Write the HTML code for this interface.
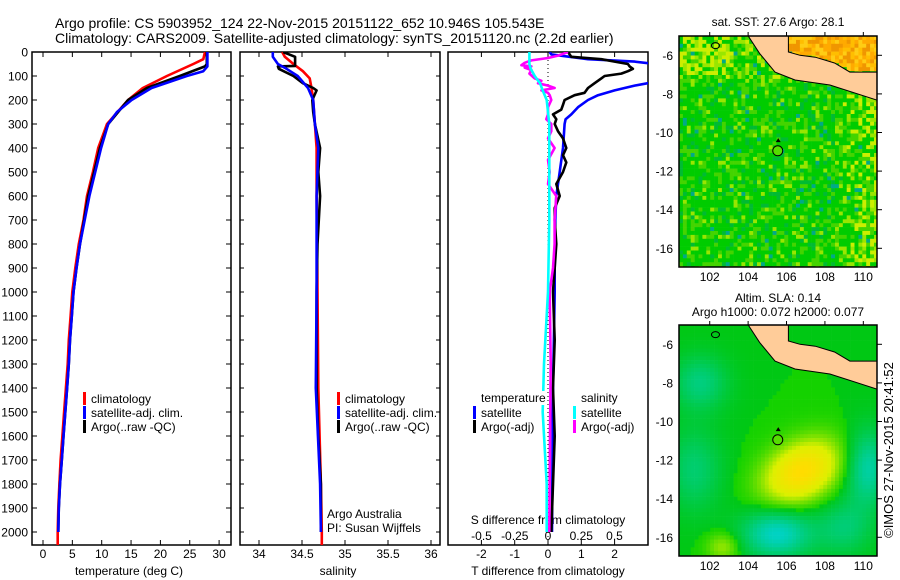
<!DOCTYPE html>
<html><head><meta charset="utf-8">
<style>
html,body{margin:0;padding:0;background:#fff;}
svg{display:block;font-family:"Liberation Sans",sans-serif;}
</style></head>
<body>
<svg id="fig" width="900" height="580" viewBox="0 0 900 580" xmlns="http://www.w3.org/2000/svg">
<text x="55" y="28" font-size="14">Argo profile: CS 5903952_124 22-Nov-2015 20151122_652 10.946S 105.543E</text>
<text x="55" y="43" font-size="14">Climatology: CARS2009. Satellite-adjusted climatology: synTS_20151120.nc (2.2d earlier)</text>
<g id="g1"></g>
<g id="g2"></g>
<g id="g3"></g>
<g id="m1"></g>
<g id="m2"></g>
<text x="778" y="26" font-size="12" text-anchor="middle">sat. SST: 27.6 Argo: 28.1</text>
<text x="778" y="302" font-size="12" text-anchor="middle">Altim. SLA: 0.14</text>
<text x="778" y="316" font-size="12" text-anchor="middle">Argo h1000: 0.072 h2000: 0.077</text>
<text transform="translate(893,450) rotate(-90)" font-size="13" text-anchor="middle">©IMOS 27-Nov-2015 20:41:52</text>
</svg>
<script>
// ---- data ----
const tClimDepth=[0,30,50,100,150,200,300,400,500,600,700,800,900,1000,1100,1200,1300,1400,1500,1600,1700,1800,1900,2000,2060];
const tClim=[27.6,27.3,25.6,21.1,17.0,14.5,10.9,9.4,8.5,7.5,6.9,6.1,5.5,5.0,4.7,4.4,4.2,3.9,3.6,3.3,3.0,2.8,2.6,2.5,2.5];
const tSatDepth=[0,60,80,100,150,200,250,300,400,600,700,800,900,1000,1100,1200,1300,1400,1500,1600,1700,1800,1900,2000];
const tSat=[28.0,28.0,27.3,24.5,18.5,15.1,12.6,11.1,9.9,7.9,7.1,6.3,5.7,5.2,4.9,4.6,4.4,4.1,3.8,3.5,3.2,2.9,2.7,2.6];
const tArgoDepth=[0,50,60,100,150,200,250,300,400,500,600,700,800,900,1000,1100,1200,1300,1400,1500,1600,1700,1800,1900,2000];
const tArgo=[27.9,27.9,27.6,23.3,17.7,14.5,12.8,11.1,9.7,8.7,7.7,7.0,6.3,5.7,5.2,4.9,4.6,4.4,4.1,3.8,3.5,3.2,2.9,2.7,2.6];
const sClimDepth=[0,20,50,80,110,150,200,300,400,600,1000,1400,1800,2000,2060];
const sClim=[34.27,34.30,34.40,34.51,34.59,34.61,34.63,34.65,34.67,34.67,34.68,34.69,34.72,34.73,34.73];
const sSatDepth=[0,20,50,70,100,150,200,300,400,600,1000,1400,1800,2000];
const sSat=[34.16,34.16,34.22,34.32,34.45,34.57,34.63,34.65,34.69,34.67,34.67,34.66,34.71,34.72];
const sArgoDepth=[0,20,58,60,70,100,130,150,160,200,250,300,400,500,600,800,1000,1200,1400,1600,1800,2000];
const sArgo=[34.28,34.42,34.42,34.22,34.23,34.40,34.51,34.63,34.67,34.62,34.63,34.65,34.71,34.69,34.71,34.68,34.67,34.67,34.67,34.69,34.72,34.72];
const dTSatDepth=[0,10,30,40,50,70,120,130,140,160,180,200,230,260,280,300,400,500,600,700,900,1000,1400,2000];
const dTSat=[0.05,0.1,1.2,2.6,3.2,3.6,3.6,3.0,2.6,2.0,1.5,1.2,0.9,0.7,0.53,0.5,0.45,0.35,0.25,0.22,0.2,0.2,0.15,0.12];
const dTArgoDepth=[0,20,30,40,50,60,70,80,90,100,110,130,150,170,180,200,220,240,260,280,300,330,360,400,430,460,500,550,600,650,700,800,900,1000,1200,1400,1600,1800,2000];
const dTArgo=[0.6,0.7,1.6,2.0,2.4,2.45,2.55,2.4,2.2,1.7,1.6,1.4,1.2,1.1,0.8,0.5,0.45,0.4,0.15,0.25,0.2,0.3,0.45,0.55,0.45,0.55,0.45,0.25,0.35,0.2,0.2,0.25,0.2,0.15,0.2,0.15,0.2,0.15,0.1];
const dSSatDepth=[0,50,70,100,130,160,200,250,300,400,500,700,1000,1300,1500,1800,2000];
const dSSat=[-0.14,-0.14,-0.13,-0.1,-0.06,-0.04,-0.01,0,0.01,0.01,0.01,0.01,0.0,-0.03,-0.04,-0.01,-0.01];
const dSArgoDepth=[0,15,25,35,45,55,60,65,75,90,110,120,130,140,150,160,170,180,200,230,260,280,300,330,360,400,450,500,550,600,700,800,900,1000,1300,1600,2000];
const dSArgo=[0.15,0.075,0,-0.125,-0.175,-0.2,-0.125,-0.175,-0.125,-0.14,-0.1,-0.05,-0.075,0,0.05,-0.05,0,0.0125,0.025,0,0,-0.0125,0.025,0.025,0,0.05,0,0.0125,0,0.0625,0.05,0.05,0.0375,0.0125,0.02,0.015,0.01];
const depthTicks=[0,100,200,300,400,500,600,700,800,900,1000,1100,1200,1300,1400,1500,1600,1700,1800,1900,2000];
const tTicks=[0,5,10,15,20,25,30];
const sTicks=[34,34.5,35,35.5,36];
const dTTicks=[-2,-1,0,1,2];
const dSTicks=[-0.5,-0.25,0,0.25,0.5];
const latTicks=[-6,-8,-10,-12,-14,-16];
const lonTicks=[102,104,106,108,110];
const argoLon=105.543, argoLat=-10.946;

// ---- helpers ----
const NS='http://www.w3.org/2000/svg';
function mk(parent,tag,attrs,text){const e=document.createElementNS(NS,tag);for(const k in attrs)e.setAttribute(k,attrs[k]);if(text!==undefined)e.textContent=text;parent.appendChild(e);return e;}
const Y=d=>52+d*0.24;
const xT=v=>43+v*5.87;
const xS=v=>259+(v-34)*86;
const xDT=v=>548+v*33.3;
const xDS=v=>548+v*133;
const PT=52,PB=545;

function frame(g,x0,x1,name,clip){
  const r=mk(g,'rect',{x:x0,y:PT,width:x1-x0,height:PB-PT,fill:'none',stroke:'#000','stroke-width':1.5});
  
  const cp=mk(document.getElementById('fig'),'clipPath',{id:clip});
  mk(cp,'rect',{x:x0,y:PT,width:x1-x0,height:PB-PT});
}
function line(g,depths,vals,xf,color,clip,name){
  const pts=depths.map((d,i)=>xf(vals[i]).toFixed(1)+','+Y(d).toFixed(1)).join(' ');
  const p=mk(g,'polyline',{points:pts,fill:'none',stroke:color,'stroke-width':2.6,'clip-path':'url(#'+clip+')','stroke-linejoin':'round'});
  
}
function xticks(g,ticks,xf,x0,x1,labelY,name){
  ticks.forEach(t=>{const x=xf(t);
    mk(g,'line',{x1:x,x2:x,y1:PT,y2:PT+5,stroke:'#000'});
    mk(g,'line',{x1:x,x2:x,y1:PB,y2:PB-5,stroke:'#000'});
    const l=mk(g,'text',{x:x,y:labelY,'font-size':12,'text-anchor':'middle'},String(t));
    
  });
}
function legend(g,x,y,items){
  items.forEach((it,i)=>{
    mk(g,'rect',{x:x,y:y+i*14-6,width:3,height:13,fill:it[0]});
    const t=mk(g,'text',{x:x+8,y:y+i*14+5,'font-size':12},it[1]);
    
  });
}

// ---- panel 1 ----
const g1=document.getElementById('g1');
frame(g1,32,231,'temperature-panel','c1');
depthTicks.forEach(d=>{const y=Y(d);mk(g1,'line',{x1:32,x2:37,y1:y,y2:y,stroke:'#000'});mk(g1,'line',{x1:231,x2:226,y1:y,y2:y,stroke:'#000'});
  const t=mk(g1,'text',{x:28,y:y+4.5,'font-size':12,'text-anchor':'end'},String(d));
  });
xticks(g1,tTicks,xT,32,231,558,'temperature');
const xl1=mk(g1,'text',{x:129,y:575,'font-size':12,'text-anchor':'middle'},'temperature (deg C)');

line(g1,tClimDepth,tClim,xT,'#ff0000','c1','temp-climatology-line');
line(g1,tArgoDepth,tArgo,xT,'#000000','c1','temp-argo-line');
line(g1,tSatDepth,tSat,xT,'#0000ff','c1','temp-satellite-line');
legend(g1,83,398,[['#ff0000','climatology'],['#0000ff','satellite-adj. clim.'],['#000','Argo(..raw -QC)']]);

// ---- panel 2 ----
const g2=document.getElementById('g2');
frame(g2,240,440,'salinity-panel','c2');
depthTicks.forEach(d=>{const y=Y(d);mk(g2,'line',{x1:240,x2:244,y1:y,y2:y,stroke:'#000'});mk(g2,'line',{x1:440,x2:436,y1:y,y2:y,stroke:'#000'});});
xticks(g2,sTicks,xS,240,440,558,'salinity');
const xl2=mk(g2,'text',{x:338,y:575,'font-size':12,'text-anchor':'middle'},'salinity');

line(g2,sClimDepth,sClim,xS,'#ff0000','c2','sal-climatology-line');
line(g2,sArgoDepth,sArgo,xS,'#000000','c2','sal-argo-line');
line(g2,sSatDepth,sSat,xS,'#0000ff','c2','sal-satellite-line');
legend(g2,337,398,[['#ff0000','climatology'],['#0000ff','satellite-adj. clim.'],['#000','Argo(..raw -QC)']]);
mk(g2,'text',{x:327,y:518,'font-size':12},'Argo Australia');
mk(g2,'text',{x:327,y:532,'font-size':12},'PI: Susan Wijffels');

// ---- panel 3 ----
const g3=document.getElementById('g3');
frame(g3,448,648,'difference-panel','c3');
mk(g3,'line',{x1:548,x2:548,y1:PT,y2:PB,stroke:'#000','stroke-dasharray':'1,3'});
xticks(g3,dTTicks,xDT,448,648,558,'t-difference');
dSTicks.forEach(t=>{const l=mk(g3,'text',{x:xDS(t),y:540,'font-size':12,'text-anchor':'middle'},String(t));
  });
mk(g3,'text',{x:548,y:524,'font-size':12,'text-anchor':'middle'},'S difference from climatology');
const xl3=mk(g3,'text',{x:548,y:575,'font-size':12,'text-anchor':'middle'},'T difference from climatology');

line(g3,dTSatDepth,dTSat,xDT,'#0000ff','c3','t-diff-satellite-line');
line(g3,dTArgoDepth,dTArgo,xDT,'#000000','c3','t-diff-argo-line');
line(g3,dSArgoDepth,dSArgo,xDS,'#ff00ff','c3','s-diff-argo-line');
line(g3,dSSatDepth,dSSat,xDS,'#00ffff','c3','s-diff-satellite-line');
mk(g3,'rect',{x:480,y:391,width:66,height:14,fill:'#fff'});
mk(g3,'text',{x:481,y:402,'font-size':12},'temperature');
mk(g3,'text',{x:581,y:402,'font-size':12},'salinity');
legend(g3,473,412,[['#0000ff','satellite'],['#000','Argo(-adj)']]);
legend(g3,573,412,[['#00ffff','satellite'],['#ff00ff','Argo(-adj)']]);

// ---- maps ----
const MX0=679,MX1=877;
const LON0=100.4,LON1=110.7;
const mxf=lon=>MX0+(lon-LON0)*19.2;
const land=[[103.94,-4.9],[106.1,-4.9],[106.1,-5.83],[106.7,-6.0],[107.5,-6.1],[108.5,-6.4],[109.3,-6.87],[110.9,-6.87],[110.9,-8.35],[110.71,-8.32],[108.26,-7.54],[106.44,-7.28],[105.4,-6.87],[104.6,-5.9]];
const northCoast=[[106.1,-5.83],[106.7,-6.0],[107.5,-6.1],[108.5,-6.4],[109.3,-6.87],[111,-6.87]];
function javaNorth(lon){for(let k=0;k<northCoast.length-1;k++){const a=northCoast[k],b=northCoast[k+1];if(lon<=b[0]){const t=(lon-a[0])/(b[0]-a[0]);return a[1]+t*(b[1]-a[1]);}}return -6.87;}
function h(i,j,s){let n=(i*374761393+j*668265263+s*2147483647)|0;n=(n^(n>>>13))*1274126177|0;return ((n^(n>>>16))>>>0)/4294967296;}
function sla(lon,lat){
  const g=(cx,cy,sx,sy,a)=>Math.exp(-((lon-cx)**2/(2*sx*sx)+(lat-cy)**2/(2*sy*sy)))*a;
  const dx=lon-106.8,dy=lat+12.6;const u=(dx*0.6-dy*0.8),v=(dx*0.8+dy*0.8);
  let s=Math.exp(-(u*u/(2*1.0)+v*v/(2*2.6)))*1.0;
  s+=g(105.5,-15.8,1.3,0.9,-0.6)+g(110.2,-12.4,0.8,1.4,-0.5)+g(101.5,-8,1,1,-0.35)+g(101.2,-12.5,1,1.5,-0.3)+g(102.7,-16.5,0.6,0.5,0.35)+g(109,-15.5,1,1,-0.3);
  return s;
}
function slaColor(s){
  if(s<0){const t=Math.min(1,-s/0.6);return `rgb(0,${Math.round(200+10*t)},${Math.round(20+180*t)})`;}
  const t=Math.min(1,s);
  if(t<0.5){const k=t/0.5;return `rgb(${Math.round(20+200*k)},${Math.round(210+30*k)},0)`;}
  const k=(t-0.5)/0.5;return `rgb(${Math.round(220+35*k)},${Math.round(240-20*k)},0)`;
}
function sstColor(i,j,lon,lat){
  const r=h(i,j,1);
  if(lon>106.1 && lat>javaNorth(lon)){const c=[[255,170,0],[255,190,0],[240,150,0],[255,205,20]];return `rgb(${c[Math.floor(r*4)].join(',')})`;}
  let warm=0;if(lon>108.5)warm+=(lon-108.5)*0.3;if(lat>-7.5)warm+=0.3;if(lon<103&&lat>-7)warm+=0.3;
  const v=r+warm*0.7;
  if(h(i,j,3)<0.025)return '#00aa88';
  if(v>1.1)return '#ccee00';if(v>0.92)return '#99e600';if(v>0.7)return '#44d400';if(v>0.1)return '#00cc00';return '#00bb33';
}
function drawMap(id,top,bottom,colorFn,name){
  const g=document.getElementById(id);
  const myf=lat=>top+(-5-lat)*19.3;
  const cpid=id+'clip';const cp=mk(document.getElementById('fig'),'clipPath',{id:cpid});
  mk(cp,'rect',{x:MX0,y:top,width:MX1-MX0,height:bottom-top});
  const cg=mk(g,'g',{'clip-path':'url(#'+cpid+')'});
  const cs=3.9;
  for(let j=0;top+j*cs<bottom;j++)for(let i=0;MX0+i*cs<MX1;i++){
    const lon=LON0+(i+0.5)*cs/19.2, lat=-5-(j+0.5)*cs/19.3;
    mk(cg,'rect',{x:(MX0+i*cs).toFixed(1),y:(top+j*cs).toFixed(1),width:cs+0.3,height:cs+0.3,fill:colorFn(i,j,lon,lat)});
  }
  const lp=mk(cg,'polygon',{points:land.map(p=>mxf(p[0]).toFixed(1)+','+myf(p[1]).toFixed(1)).join(' '),fill:'#ffcc99',stroke:'#000','stroke-width':1});
  
  mk(cg,'ellipse',{cx:mxf(102.3),cy:myf(-5.5),rx:4,ry:3,fill:'none',stroke:'#000'});
  const fr=mk(g,'rect',{x:MX0,y:top,width:MX1-MX0,height:bottom-top,fill:'none',stroke:'#000','stroke-width':1.5});
  
  latTicks.forEach(l=>{const y=myf(l);mk(g,'line',{x1:MX1,x2:MX1+5,y1:y,y2:y,stroke:'#000'});
    const t=mk(g,'text',{x:673,y:y+4.5,'font-size':12,'text-anchor':'end'},String(l));
    });
  lonTicks.forEach(l=>{const x=mxf(l);mk(g,'line',{x1:x,x2:x,y1:top,y2:top-4,stroke:'#000'});
    const t=mk(g,'text',{x:x,y:bottom+14,'font-size':12,'text-anchor':'middle'},String(l));
    });
  const m=mk(g,'circle',{cx:mxf(argoLon),cy:myf(argoLat),r:5,fill:'#55dd00',stroke:'#000','stroke-width':1});
  
  mk(g,'polygon',{points:`${mxf(argoLon)+0.5},${myf(-10.45)-3} ${mxf(argoLon)-2},${myf(-10.45)+1} ${mxf(argoLon)+3},${myf(-10.45)+1}`,fill:'#000'});
}
drawMap('m1',36,267,sstColor,'sst-map');
drawMap('m2',325,556,(i,j,lon,lat)=>slaColor(sla(lon,lat)),'sla-map');
</script>
</body></html>
